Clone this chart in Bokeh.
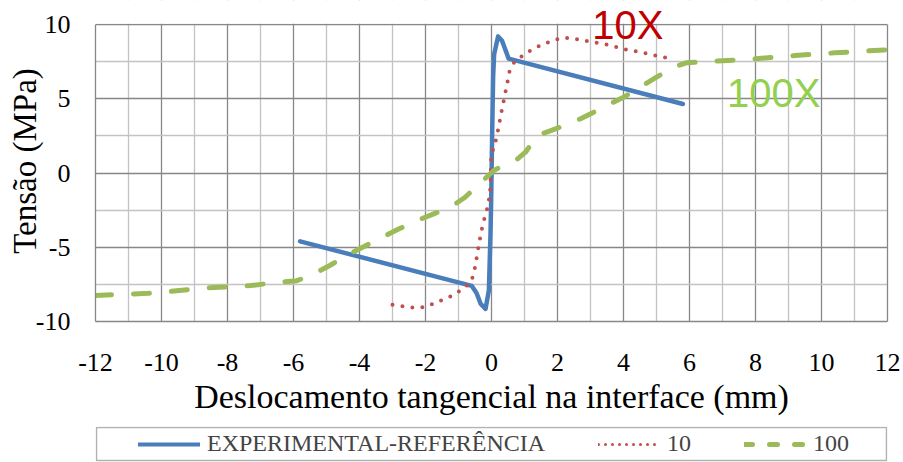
from bokeh.plotting import figure
from bokeh.layouts import column
from bokeh.models import (FixedTicker, Legend, LegendItem, Label, Range1d, BoxAnnotation,
                          LinearAxis)
from bokeh.embed import file_html
from bokeh.resources import INLINE

# ---- data ----
exp_x = [-5.8, -0.6, -0.45, -0.33, -0.18, -0.08, -0.03, -0.01, 0.02, 0.05, 0.08, 0.2, 0.32, 0.52, 5.8]
exp_y = [-4.6, -7.6, -8.1, -8.8, -9.15, -7.9, -4.1, -1.85, 2.65, 6.5, 8.0, 9.2, 8.9, 7.7, 4.65]

r10_x = [-3.0, -2.7, -2.4, -2.05, -1.75, -1.45, -1.15, -0.87, -0.62, -0.53, -0.47, -0.42, -0.36,
         -0.3, -0.22, -0.13, -0.07, -0.03, -0.01, 0.1, 0.2, 0.3, 0.4, 0.5, 0.55, 0.7, 1.0, 1.3,
         1.6, 1.9, 2.2, 2.5, 2.8, 3.1, 3.5, 3.8, 4.1, 4.4, 4.8, 5.1, 5.4]
r10_y = [-8.88, -8.97, -9.06, -9.03, -8.8, -8.5, -8.23, -7.8, -7.35, -6.7, -6.0, -5.3, -4.55,
         -3.85, -3.1, -2.4, -1.7, -0.9, 1.2, 1.9, 2.9, 4.1, 5.2, 6.3, 6.9, 7.5, 8.0, 8.4,
         8.7, 8.95, 9.12, 9.05, 8.92, 8.8, 8.65, 8.47, 8.3, 8.18, 8.0, 7.85, 7.7]

g100_x = [-12, -10.4, -8.7, -7.3, -6.4, -5.9, -5.6, -5.3, -4.9, -4.4, -3.8, -3.3, -2.8, -2.25,
          -1.75, -1.24, -0.8, -0.4, 0.07, 0.4, 0.73, 1.03, 1.38, 1.94, 2.7, 3.5, 4.0, 4.5, 5.0,
          5.5, 5.9, 6.8, 8.0, 9.2, 10.4, 12]
g100_y = [-8.25, -8.1, -7.75, -7.58, -7.35, -7.25, -7.0, -6.7, -6.23, -5.56, -4.88, -4.32, -3.76,
          -3.2, -2.75, -2.3, -1.63, -0.8, 0.17, 0.55, 0.84, 1.4, 2.52, 2.97, 3.65, 4.55, 5.1,
          5.78, 6.45, 7.12, 7.42, 7.53, 7.69, 7.91, 8.09, 8.3]

x_ticks = [-12, -10, -8, -6, -4, -2, 0, 2, 4, 6, 8, 10, 12]
x_tick_labels = ["-12", "-10", "-8", "-6", "-4", "-2", "0", "2", "4", "6", "8", "10", "12"]
x_minor = [-11, -9, -7, -5, -3, -1, 1, 3, 5, 7, 9, 11]
y_ticks = [-10, -5, 0, 5, 10]
y_tick_labels = ["-10", "-5", "0", "5", "10"]
y_minor = [-7.5, -2.5, 2.5, 7.5]

series_names = ["EXPERIMENTAL-REFERÊNCIA", "10", "100"]

SERIF = "Liberation Serif"
SANS = "Liberation Sans"
MAJOR = "#878787"
MINOR = "#C3C3C3"
BLUE, RED, GREEN = "#4A7EBB", "#C0504D", "#9BBB59"

W = 903
H1 = 426
H2 = 36
X0, X1 = -12, 12
Y0, Y1 = -10, 10
TOP_PAD = 24           # pixels of head-room above the grid for the "10X" note
PX_PER_Y = 297 / (Y1 - Y0)
Y_TOP = Y1 + TOP_PAD / PX_PER_Y

p = figure(width=W, height=H1, output_backend="svg", toolbar_location=None,
           x_range=Range1d(X0, X1), y_range=Range1d(Y0, Y_TOP),
           min_border_left=95, min_border_top=0, min_border_right=16, min_border_bottom=105,
           background_fill_color="white", border_fill_color="white")
p.outline_line_color = None

p.xaxis.ticker = FixedTicker(ticks=x_ticks, minor_ticks=x_minor)
p.yaxis.ticker = FixedTicker(ticks=y_ticks, minor_ticks=y_minor)
p.xaxis.major_label_overrides = {t: s for t, s in zip(x_ticks, x_tick_labels)}
p.yaxis.major_label_overrides = {t: s for t, s in zip(y_ticks, y_tick_labels)}
p.yaxis.bounds = (Y0, Y1)

for ax in (p.xaxis[0], p.yaxis[0]):
    ax.axis_line_color = MAJOR
    ax.axis_line_width = 1.3
    ax.major_tick_in = 0
    ax.major_tick_out = 0
    ax.minor_tick_in = 0
    ax.minor_tick_out = 0
    ax.major_label_text_font = SERIF
    ax.major_label_text_font_size = "26px"
    ax.major_label_text_color = "black"
    ax.axis_label_text_font = SERIF
    ax.axis_label_text_font_style = "normal"
    ax.axis_label_text_color = "black"

p.xaxis.axis_label = "Deslocamento tangencial na interface (mm)"
p.yaxis.axis_label = "Tensão (MPa)"
p.xaxis.axis_label_text_font_size = "34px"
p.yaxis.axis_label_text_font_size = "33px"
p.xaxis.major_label_standoff = 32
p.xaxis.axis_label_standoff = 4
p.yaxis.major_label_standoff = 25
p.yaxis.axis_label_standoff = -10

# right-hand border of the plot area
right_axis = LinearAxis(ticker=FixedTicker(ticks=[]), bounds=(Y0, Y1),
                        axis_line_color=MAJOR, axis_line_width=1.3,
                        major_tick_in=0, major_tick_out=0, minor_tick_in=0, minor_tick_out=0,
                        major_label_standoff=0, major_label_text_font_size="1px")
p.add_layout(right_axis, "right")

for g in (p.xgrid[0], p.ygrid[0]):
    g.grid_line_color = MAJOR
    g.grid_line_width = 1.3
    g.minor_grid_line_color = MINOR
    g.minor_grid_line_width = 1.3

# white head-room band above the grid (hides grid lines above y = 10)
p.quad(left=X0, right=X1, bottom=Y1 + 0.05, top=Y_TOP, fill_color="white", line_color=None)

p.line(exp_x, exp_y, line_color=BLUE, line_width=4.5, line_join="round", line_cap="round")
p.line(r10_x, r10_y, line_color=RED, line_width=4, line_dash="0 10",
       line_cap="round", line_join="round")
p.line(g100_x, g100_y, line_color=GREEN, line_width=5, line_dash="16 22",
       line_cap="round", line_join="round")

p.add_layout(Label(x=3.05, y=10.0, text="10X", text_font=SANS,
                   text_font_size="40px", text_color="#C00000",
                   text_baseline="alphabetic"))
p.add_layout(Label(x=7.14, y=5.42, text="100X", text_font=SANS,
                   text_font_size="40px", text_color="#92D050",
                   text_baseline="alphabetic"))

# ---- legend strip below the chart (its frame is aligned with the chart's frame) ----
q = figure(width=W, height=H2, output_backend="svg", toolbar_location=None,
           x_range=Range1d(95, 887), y_range=Range1d(0, H2),
           x_axis_location=None, y_axis_location=None,
           min_border=0, min_border_left=0, min_border_right=0,
           min_border_top=0, min_border_bottom=0,
           background_fill_color="white", border_fill_color="white")
q.outline_line_color = None
q.xgrid.visible = False
q.ygrid.visible = False

q.add_layout(BoxAnnotation(left=96, right=886, bottom=2, top=35,
                           fill_alpha=0, line_color="black", line_width=1.5))

# legend proxies: same series, lying outside this strip's visible range
l_exp = q.line(exp_x, exp_y, line_color=BLUE, line_width=4, line_cap="round")
l_10 = q.line(r10_x, r10_y, line_color=RED, line_width=3, line_dash="0 7", line_cap="round")
l_100 = q.line(g100_x, g100_y, line_color=GREEN, line_width=5, line_dash="8 17", line_cap="round")

legend = Legend(items=[LegendItem(label=series_names[0], renderers=[l_exp]),
                       LegendItem(label=series_names[1], renderers=[l_10]),
                       LegendItem(label=series_names[2], renderers=[l_100])],
                orientation="horizontal", location=(41, 3),
                border_line_alpha=0, background_fill_alpha=0,
                label_text_font=SERIF, label_text_font_size="24px",
                glyph_width=62, glyph_height=24, label_height=24,
                spacing=53, padding=2, margin=0, label_standoff=7)
q.add_layout(legend)

open("out.html", "w").write(file_html(column(p, q), INLINE))
